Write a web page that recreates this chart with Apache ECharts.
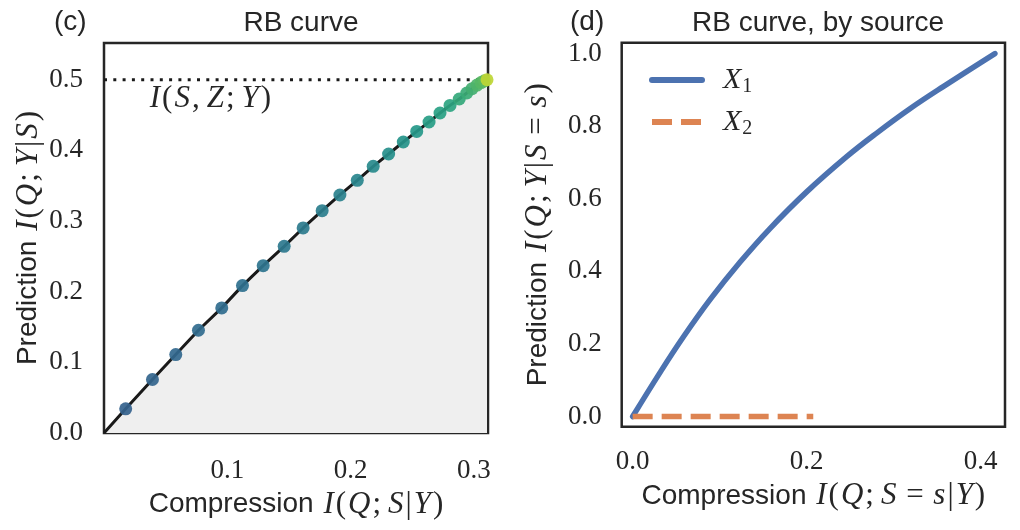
<!DOCTYPE html>
<html>
<head>
<meta charset="utf-8">
<script src="https://cdn.jsdelivr.net/npm/echarts@6/dist/echarts.min.js"></script>
<style>
  html, body { margin: 0; padding: 0; background: #fff; }
  #main { width: 1020px; height: 530px; }
</style>
</head>
<body>
<div id="main"></div>
<script>
// (c) RB curve: points on the curve
const rbX = [0, 0.0176, 0.0393, 0.0582, 0.0766, 0.0955, 0.1123, 0.1291, 0.1461, 0.1615, 0.1769,
  0.1913, 0.2054, 0.2183, 0.2308, 0.2427, 0.2536, 0.2636, 0.2725, 0.2806, 0.2881, 0.2942,
  0.2985, 0.3025, 0.3058, 0.3085, 0.3106];
const rbY = [0, 0.0342, 0.0757, 0.111, 0.1454, 0.1771, 0.2086, 0.2369, 0.2642, 0.2902, 0.3147,
  0.3369, 0.3576, 0.3774, 0.3949, 0.4119, 0.4269, 0.4402, 0.4529, 0.4637, 0.4727, 0.4812,
  0.4873, 0.4925, 0.496, 0.4985, 0.5];
const maxInfo = 0.5;   // I(S,Z;Y)

// (d) RB curve by source
const x1X = [0, 0.0314, 0.0582, 0.0889, 0.1233, 0.1578, 0.2, 0.246, 0.2805, 0.3187, 0.357, 0.4164];
const x1Y = [0, 0.121, 0.219, 0.322, 0.425, 0.518, 0.619, 0.716, 0.781, 0.848, 0.909, 1.0];
const x2X = [0, 0.2076];
const x2Y = [0, 0];

const ticksCX = [0.1, 0.2, 0.3];
const ticksCY = [0.0, 0.1, 0.2, 0.3, 0.4, 0.5];
const ticksDX = [0.0, 0.2, 0.4];
const ticksDY = [0.0, 0.2, 0.4, 0.6, 0.8, 1.0];

const SANS = 'Liberation Sans';
const SERIF = 'Liberation Serif';
const INK = '#262626';

// viridis-ish colours along the curve
const stops = [[0, [53, 95, 141]], [0.2, [47, 111, 142]], [0.35, [42, 131, 141]], [0.42, [36, 150, 138]],
  [0.46, [42, 163, 131]], [0.485, [62, 172, 116]], [0.4985, [92, 186, 98]], [0.5, [190, 214, 52]]];
function pointColor(v) {
  for (let i = 1; i < stops.length; i++) {
    if (v <= stops[i][0]) {
      const a = stops[i - 1], b = stops[i];
      const t = (v - a[0]) / (b[0] - a[0]);
      const c = a[1].map((k, j) => Math.round(k + (b[1][j] - k) * t));
      return 'rgb(' + c.join(',') + ')';
    }
  }
  return 'rgb(190,214,52)';
}

// letters italic, the rest upright (poor man's LaTeX)
function math(s) {
  return s.split('').map(ch => {
    if (/[A-Za-z]/.test(ch)) return '{m|' + ch + '}';
    if (ch === ';' || ch === ',') return '{q|' + ch + '}';
    return '{p|' + ch + '}';
  }).join('');
}
const mathRich = {
  a: { fontFamily: SANS, fontSize: 28, color: INK },
  m: { fontFamily: SERIF, fontStyle: 'italic', fontSize: 31, color: INK, padding: [0, 2, 0, 2] },
  p: { fontFamily: SERIF, fontSize: 31, color: INK },
  q: { fontFamily: SERIF, fontSize: 31, color: INK, padding: [0, 5, 0, 0] }
};

const tickLabel = {
  fontFamily: SERIF, fontSize: 27, color: INK,
  formatter: v => v.toFixed(1)
};

const zip = (xs, ys) => xs.map((x, i) => [x, ys[i]]);
const titleStyle = { fontFamily: SANS, fontSize: 28, fontWeight: 'normal', color: INK };

const chart = echarts.init(document.getElementById('main'));
chart.setOption({
  backgroundColor: '#fff',
  animation: false,
  title: [
    { text: '(c)', left: 49, top: 3, textStyle: titleStyle },
    { text: 'RB curve', left: 296, top: 4, textAlign: 'center', textStyle: titleStyle },
    { text: '(d)', left: 565, top: 3, textStyle: titleStyle },
    { text: 'RB curve, by source', left: 813, top: 4, textAlign: 'center', textStyle: titleStyle }
  ],
  grid: [
    { left: 104, top: 43, width: 384, height: 390, show: true, borderColor: INK, borderWidth: 2.5, backgroundColor: 'transparent' },
    { left: 621.7, top: 42.7, width: 383.3, height: 384, show: true, borderColor: INK, borderWidth: 2.5, backgroundColor: 'transparent' }
  ],
  legend: {
    left: 644, top: 60, orient: 'vertical', itemWidth: 50, itemHeight: 14, itemGap: 10,
    data: [
      { name: 'X1', itemStyle: { opacity: 0 }, lineStyle: { width: 6, cap: 'round' } },
      { name: 'X2', itemStyle: { opacity: 0 }, lineStyle: { width: 6, type: [20, 9] } }
    ],
    formatter: n => '{m|X}{s|' + n.slice(1) + '}',
    textStyle: {
      padding: [0, 0, 0, 16],
      rich: {
        m: { fontFamily: SERIF, fontStyle: 'italic', fontSize: 30, color: INK, padding: [0, 1, 0, 0] },
        s: { fontFamily: SERIF, fontSize: 20, color: INK, padding: [14, 0, 0, 0] }
      }
    }
  },
  xAxis: [
    {
      type: 'value', gridIndex: 0, min: 0, max: 0.3114,
      axisLine: { show: false }, axisTick: { show: false }, splitLine: { show: false },
      axisLabel: Object.assign({ customValues: ticksCX, margin: 24 }, tickLabel),
      name: '{a|Compression }' + math('I(Q;S|Y)'), nameLocation: 'middle', nameGap: 53,
      nameTextStyle: { rich: mathRich }
    },
    {
      type: 'value', gridIndex: 1, min: -0.0126, max: 0.428,
      axisLine: { show: false }, axisTick: { show: false }, splitLine: { show: false },
      axisLabel: Object.assign({ customValues: ticksDX, margin: 22 }, tickLabel),
      name: '{a|Compression }' + math('I(Q;S = s|Y)'), nameLocation: 'middle', nameGap: 53,
      nameTextStyle: { rich: mathRich }
    }
  ],
  yAxis: [
    {
      type: 'value', gridIndex: 0, min: 0, max: 0.552,
      axisLine: { show: false }, axisTick: { show: false }, splitLine: { show: false },
      axisLabel: Object.assign({ customValues: ticksCY, margin: 21 }, tickLabel),
      name: '{a|Prediction }' + math('I(Q;Y|S)'), nameLocation: 'middle', nameGap: 60,
      nameTextStyle: { rich: mathRich }
    },
    {
      type: 'value', gridIndex: 1, min: -0.028, max: 1.03,
      axisLine: { show: false }, axisTick: { show: false }, splitLine: { show: false },
      axisLabel: Object.assign({ customValues: ticksDY, margin: 20 }, tickLabel),
      name: '{a|Prediction }' + math('I(Q;Y|S = s)'), nameLocation: 'middle', nameGap: 68,
      nameTextStyle: { rich: mathRich }
    }
  ],
  series: [
    {
      name: 'curve', type: 'line', xAxisIndex: 0, yAxisIndex: 0,
      data: zip(rbX, rbY), showSymbol: false, symbol: 'none',
      lineStyle: { color: '#1a1a1a', width: 3 },
      areaStyle: { color: '#efefef', opacity: 1, origin: 'start' },
      z: 2
    },
    {
      name: 'bound', type: 'line', xAxisIndex: 0, yAxisIndex: 0,
      data: [[0, maxInfo], [0.3114, maxInfo]], symbol: 'none',
      lineStyle: { color: '#1a1a1a', width: 3, type: [3, 6.3] },
      markPoint: {
        symbol: 'circle', symbolSize: 0,
        data: [{ coord: [0.0355, maxInfo] }],
        label: {
          show: true, position: 'right', distance: 0, offset: [0, 19],
          formatter: math('I(S,Z;Y)'), rich: mathRich
        }
      },
      z: 3
    },
    {
      name: 'points', type: 'scatter', xAxisIndex: 0, yAxisIndex: 0,
      data: zip(rbX.slice(1), rbY.slice(1)), symbolSize: 13,
      itemStyle: { color: p => pointColor(p.value[1]), opacity: 0.92 },
      z: 4
    },
    {
      name: 'X1', type: 'line', xAxisIndex: 1, yAxisIndex: 1,
      data: zip(x1X, x1Y), symbol: 'none', smooth: 0.4,
      lineStyle: { color: '#4c72b0', width: 5.5, cap: 'round' },
      itemStyle: { color: '#4c72b0' }
    },
    {
      name: 'X2', type: 'line', xAxisIndex: 1, yAxisIndex: 1,
      data: zip(x2X, x2Y), symbol: 'none',
      lineStyle: { color: '#dd8452', width: 5.5, type: [20, 9] },
      itemStyle: { color: '#dd8452' }
    }
  ]
});
</script>
</body>
</html>
